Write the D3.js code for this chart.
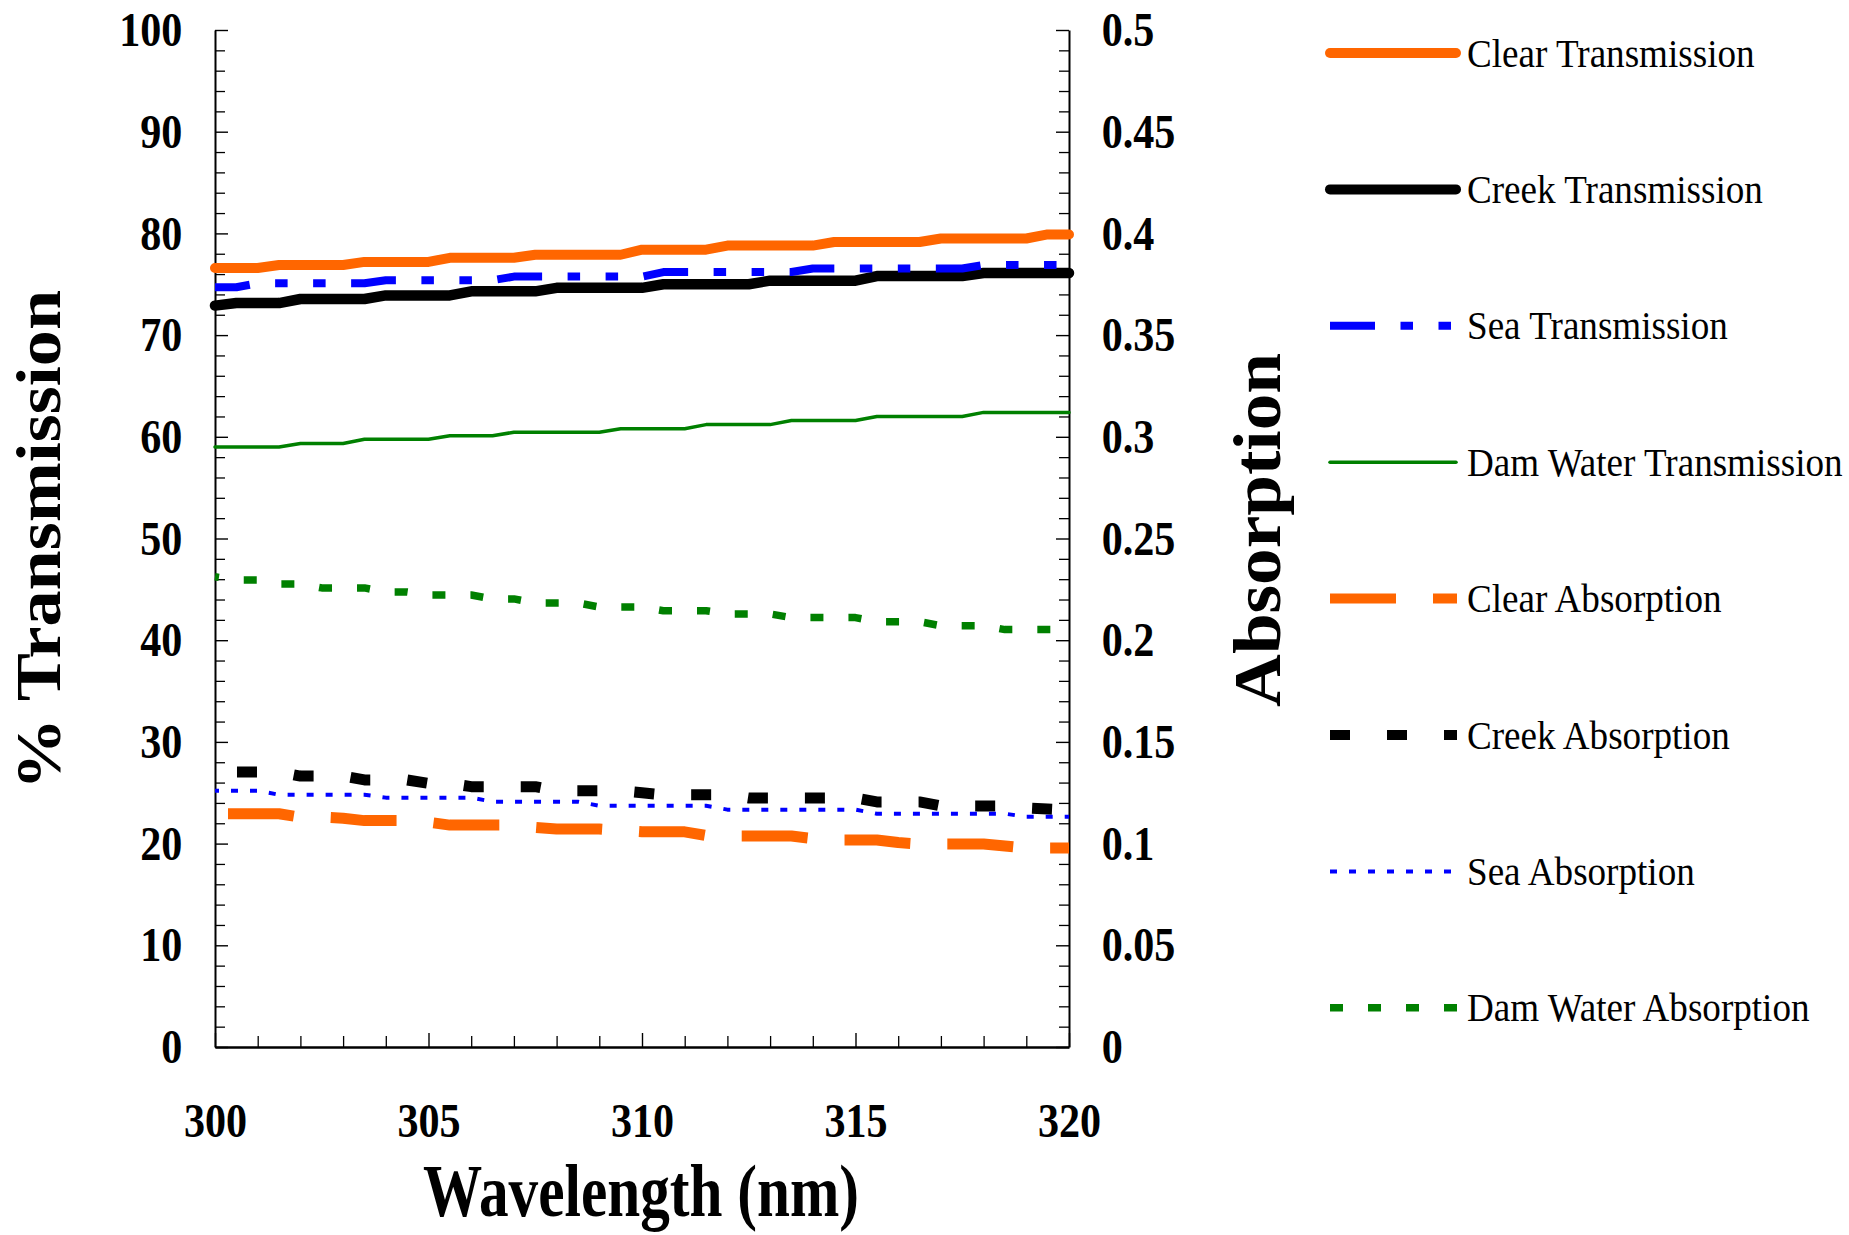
<!DOCTYPE html>
<html>
<head>
<meta charset="utf-8">
<script src="https://cdn.jsdelivr.net/npm/d3@7"></script>
<style>
  body { margin: 0; background: #fff; }
  svg { display: block; }
</style>
</head>
<body>
<svg id="chart" width="1849" height="1235"></svg>
<script>
// wavelengths read every 0.5 nm
var wavelengths = [300, 300.5, 301, 301.5, 302, 302.5, 303, 303.5, 304, 304.5, 305, 305.5, 306, 306.5, 307, 307.5,
  308, 308.5, 309, 309.5, 310, 310.5, 311, 311.5, 312, 312.5, 313, 313.5, 314, 314.5, 315, 315.5, 316, 316.5,
  317, 317.5, 318, 318.5, 319, 319.5, 320];

var clearT = [76.6, 76.6, 76.6, 76.9, 76.9, 76.9, 76.9, 77.2, 77.2, 77.2, 77.2, 77.6, 77.6, 77.6, 77.6, 77.9,
  77.9, 77.9, 77.9, 77.9, 78.4, 78.4, 78.4, 78.4, 78.8, 78.8, 78.8, 78.8, 78.8, 79.15, 79.15, 79.15, 79.15, 79.15,
  79.5, 79.5, 79.5, 79.5, 79.5, 79.9, 79.9];
var creekT = [72.9, 73.15, 73.15, 73.15, 73.55, 73.55, 73.55, 73.55, 73.9, 73.9, 73.9, 73.9, 74.3, 74.3, 74.3, 74.3,
  74.65, 74.65, 74.65, 74.65, 74.65, 75.0, 75.0, 75.0, 75.0, 75.0, 75.35, 75.35, 75.35, 75.35, 75.35, 75.8, 75.8, 75.8,
  75.8, 75.8, 76.1, 76.1, 76.1, 76.1, 76.1];
var seaT = [74.7, 74.7, 75.1, 75.1, 75.1, 75.1, 75.1, 75.1, 75.4, 75.4, 75.4, 75.4, 75.4, 75.4, 75.75, 75.75,
  75.75, 75.75, 75.75, 75.75, 75.75, 76.2, 76.2, 76.2, 76.2, 76.2, 76.2, 76.2, 76.55, 76.55, 76.55, 76.55, 76.55, 76.55,
  76.55, 76.55, 76.9, 76.9, 76.9, 76.9, 76.9];
var damT = [59.0, 59.0, 59.0, 59.0, 59.35, 59.35, 59.35, 59.75, 59.75, 59.75, 59.75, 60.1, 60.1, 60.1, 60.45, 60.45,
  60.45, 60.45, 60.45, 60.8, 60.8, 60.8, 60.8, 61.2, 61.2, 61.2, 61.2, 61.6, 61.6, 61.6, 61.6, 62.0, 62.0, 62.0,
  62.0, 62.0, 62.4, 62.4, 62.4, 62.4, 62.4];

var clearA = [0.1147, 0.1147, 0.1147, 0.1147, 0.1130, 0.1130, 0.1125, 0.1113, 0.1113, 0.1113, 0.1105, 0.1091, 0.1091,
  0.1091, 0.1091, 0.1080, 0.1072, 0.1072, 0.1072, 0.1065, 0.1058, 0.1058, 0.1058, 0.1040, 0.1037, 0.1037, 0.1037,
  0.1037, 0.1025, 0.1018, 0.1018, 0.1018, 0.1005, 0.0998, 0.0998, 0.0998, 0.0998, 0.0988, 0.0978, 0.0978, 0.0978];
var creekA = [0.1355, 0.1352, 0.1352, 0.1352, 0.1332, 0.1332, 0.1332, 0.1313, 0.1313, 0.1313, 0.1296, 0.1296, 0.1280,
  0.1280, 0.1280, 0.1280, 0.1260, 0.1260, 0.1260, 0.1260, 0.1250, 0.1240, 0.1240, 0.1240, 0.1240, 0.1224, 0.1224,
  0.1224, 0.1224, 0.1224, 0.1224, 0.1205, 0.1205, 0.1205, 0.1185, 0.1185, 0.1185, 0.1185, 0.1175, 0.1170, 0.1165];
var seaA = [0.1260, 0.1260, 0.1260, 0.1240, 0.1240, 0.1240, 0.1240, 0.1240, 0.1226, 0.1226, 0.1226, 0.1226, 0.1226,
  0.1206, 0.1206, 0.1206, 0.1206, 0.1206, 0.1186, 0.1186, 0.1186, 0.1186, 0.1186, 0.1186, 0.1167, 0.1167, 0.1167,
  0.1167, 0.1167, 0.1167, 0.1167, 0.1147, 0.1147, 0.1147, 0.1147, 0.1147, 0.1147, 0.1147, 0.1132, 0.1132, 0.1132];
var damA = [0.2312, 0.2296, 0.2296, 0.2276, 0.2276, 0.2257, 0.2257, 0.2257, 0.2237, 0.2237, 0.2222, 0.2222, 0.2222,
  0.2203, 0.2203, 0.2183, 0.2183, 0.2183, 0.2163, 0.2163, 0.2163, 0.2145, 0.2145, 0.2145, 0.2129, 0.2129, 0.2129,
  0.2111, 0.2111, 0.2111, 0.2111, 0.2091, 0.2091, 0.2091, 0.2071, 0.2071, 0.2071, 0.2052, 0.2052, 0.2052, 0.2052];

var seriesNames = ["Clear Transmission", "Creek Transmission", "Sea Transmission", "Dam Water Transmission",
  "Clear Absorption", "Creek Absorption", "Sea Absorption", "Dam Water Absorption"];

var leftTicks = [0, 10, 20, 30, 40, 50, 60, 70, 80, 90, 100];
var rightTicks = [0, 0.05, 0.1, 0.15, 0.2, 0.25, 0.3, 0.35, 0.4, 0.45, 0.5];
var xTicks = [300, 305, 310, 315, 320];

var serif = "'Liberation Serif', 'Times New Roman', Times, serif";

// line looks, in the same order as seriesNames
var looks = [
  { values: clearT, side: "L", color: "#FF6600", width: 10, dash: null, off: 0, cap: "round" },
  { values: creekT, side: "L", color: "#000000", width: 10.5, dash: null, off: 0, cap: "round" },
  { values: seaT, side: "L", color: "#0000FF", width: 8, dash: "45,25.5,12.5,25.5,12.5,25.5", off: 10, cap: "butt" },
  { values: damT, side: "L", color: "#008000", width: 3.5, dash: null, off: 0, cap: "round" },
  { values: clearA, side: "R", color: "#FF6600", width: 11, dash: "66,37", off: 90, cap: "butt" },
  { values: creekA, side: "R", color: "#000000", width: 11, dash: "20,37", off: 35, cap: "butt" },
  { values: seaA, side: "R", color: "#0000FF", width: 4, dash: "7,12", off: 3, cap: "butt" },
  { values: damA, side: "R", color: "#008000", width: 7.5, dash: "13,25", off: 9, cap: "butt" }
];

var svg = d3.select("#chart");

var x = d3.scaleLinear().domain([300, 320]).range([215, 1069]);
var yL = d3.scaleLinear().domain([0, 100]).range([1047, 30]);
var yR = d3.scaleLinear().domain([0, 0.5]).range([1047, 30]);

function minorOf(lo, hi, step, majors) {
  var out = [];
  for (var v = lo; v <= hi + 1e-9; v += step) {
    var r = +v.toFixed(4);
    if (!majors.some(function(m) { return Math.abs(m - r) < 1e-9; })) out.push(r);
  }
  return out;
}

function styleAxis(g, sx) {
  g.select(".domain").attr("stroke-width", 2).attr("stroke", "#000");
  g.selectAll(".tick line").attr("stroke-width", 1.4).attr("stroke", "#000");
  g.selectAll(".tick text")
    .attr("font-family", serif)
    .attr("font-weight", "bold")
    .attr("font-size", 49)
    .attr("fill", "#000")
    .attr("transform", "scale(" + sx + ",1)");
}

// minor ticks
svg.append("g").attr("transform", "translate(215,0)")
  .call(d3.axisLeft(yL).tickValues(minorOf(0, 100, 2, leftTicks)).tickSize(-10).tickFormat(""))
  .call(function(g) { g.select(".domain").remove(); g.selectAll("line").attr("stroke-width", 1.3); });
svg.append("g").attr("transform", "translate(1069,0)")
  .call(d3.axisRight(yR).tickValues(minorOf(0, 0.5, 0.01, rightTicks)).tickSize(-10).tickFormat(""))
  .call(function(g) { g.select(".domain").remove(); g.selectAll("line").attr("stroke-width", 1.3); });
svg.append("g").attr("transform", "translate(0,1047)")
  .call(d3.axisBottom(x).tickValues(minorOf(300, 320, 1, xTicks)).tickSize(-11).tickFormat(""))
  .call(function(g) { g.select(".domain").remove(); g.selectAll("line").attr("stroke-width", 1.3); });

// major axes
svg.append("g").attr("transform", "translate(215,0)")
  .call(d3.axisLeft(yL).tickValues(leftTicks).tickSizeInner(-13).tickSizeOuter(0).tickPadding(38)
    .tickFormat(d3.format("d")))
  .call(styleAxis, 0.86);
svg.append("g").attr("transform", "translate(1069,0)")
  .call(d3.axisRight(yR).tickValues(rightTicks).tickSizeInner(-13).tickSizeOuter(0).tickPadding(38)
    .tickFormat(function(d) { return String(+d.toFixed(2)); }))
  .call(styleAxis, 0.86);
svg.append("g").attr("transform", "translate(0,1047)")
  .call(d3.axisBottom(x).tickValues(xTicks).tickSizeInner(-14).tickSizeOuter(0).tickPadding(55)
    .tickFormat(d3.format("d")))
  .call(styleAxis, 0.86)
  .call(function(g) { g.select(".domain").attr("stroke-width", 2.5); });

// lines
var lineL = d3.line().x(function(d) { return x(d[0]); }).y(function(d) { return yL(d[1]); });
var lineR = d3.line().x(function(d) { return x(d[0]); }).y(function(d) { return yR(d[1]); });

looks.forEach(function(s) {
  var pts = wavelengths.map(function(w, i) { return [w, s.values[i]]; });
  svg.append("path")
    .attr("d", s.side === "L" ? lineL(pts) : lineR(pts))
    .attr("fill", "none")
    .attr("stroke", s.color)
    .attr("stroke-width", s.width)
    .attr("stroke-linejoin", "round")
    .attr("stroke-linecap", s.cap)
    .attr("stroke-dasharray", s.dash)
    .attr("stroke-dashoffset", s.off);
});

// axis titles
svg.append("text")
  .attr("x", 641).attr("y", 1216)
  .attr("text-anchor", "middle")
  .attr("font-family", serif).attr("font-weight", "bold").attr("font-size", 73)
  .attr("textLength", 436).attr("lengthAdjust", "spacingAndGlyphs")
  .text("Wavelength (nm)");

svg.append("text")
  .attr("transform", "translate(60,540) rotate(-90)")
  .attr("text-anchor", "middle")
  .attr("font-family", serif).attr("font-weight", "bold").attr("font-size", 63)
  .attr("textLength", 500).attr("lengthAdjust", "spacingAndGlyphs")
  .text("% Transmission");

svg.append("text")
  .attr("transform", "translate(1280,530) rotate(-90)")
  .attr("text-anchor", "middle")
  .attr("font-family", serif).attr("font-weight", "bold").attr("font-size", 68)
  .attr("textLength", 354).attr("lengthAdjust", "spacingAndGlyphs")
  .text("Absorption");

// legend
var legend = svg.append("g");
seriesNames.forEach(function(name, i) {
  var s = looks[i];
  var ly = 53 + i * 136.4;
  var solid = s.dash === null;
  legend.append("line")
    .attr("x1", 1330).attr("x2", solid ? 1456 : 1457)
    .attr("y1", ly).attr("y2", ly)
    .attr("stroke", s.color)
    .attr("stroke-width", Math.min(s.width, 10))
    .attr("stroke-linecap", s.cap)
    .attr("stroke-dasharray", s.dash);
  legend.append("text")
    .attr("transform", "translate(1467," + (ly + 13.5) + ") scale(0.905,1)")
    .attr("font-family", serif).attr("font-size", 41).attr("fill", "#000")
    .text(name);
});
</script>
</body>
</html>
